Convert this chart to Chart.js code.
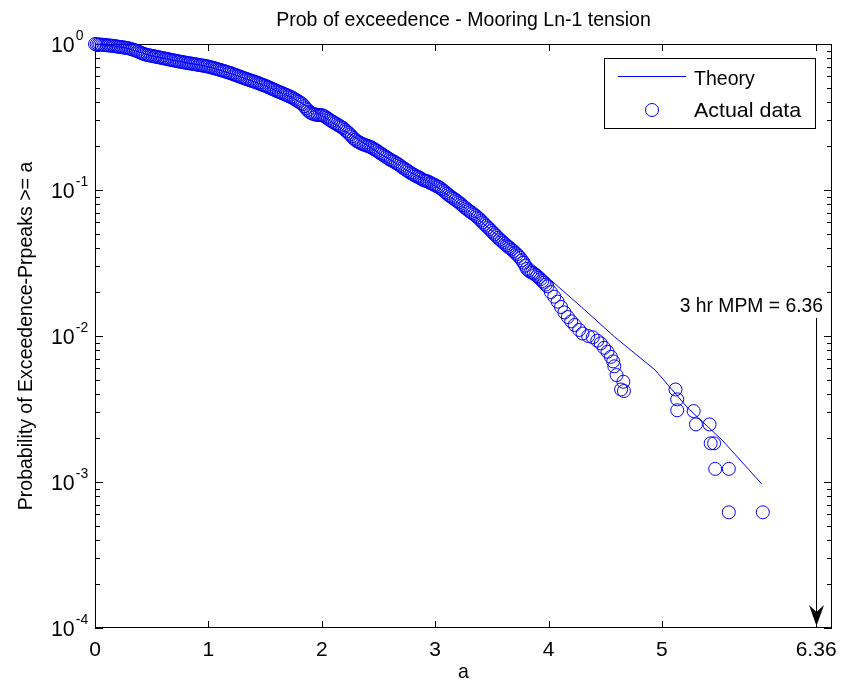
<!DOCTYPE html>
<html>
<head>
<meta charset="utf-8">
<script src="https://cdn.jsdelivr.net/npm/chart.js@4.4.1/dist/chart.umd.min.js"></script>
<style>
  html, body { margin: 0; padding: 0; background: #fff; }
  #wrap { width: 842px; height: 688px; }
</style>
</head>
<body>
<div id="wrap"><canvas id="pexChart" width="842" height="688"></canvas></div>
<script>
const TITLE = 'Prob of exceedence - Mooring Ln-1 tension';
const X_LABEL = 'a';
const Y_LABEL = 'Probability of Exceedence-Prpeaks >= a';
const X_TICKS = [0, 1, 2, 3, 4, 5, 6.36];
const X_TICK_LABELS = ['0', '1', '2', '3', '4', '5', '6.36'];
const Y_EXPONENTS = [0, -1, -2, -3, -4];
const MPM = 6.36;
const MPM_TEXT = '3 hr MPM = 6.36';
const LEGEND_LABELS = ['Theory', 'Actual data'];

// theory curve (a, probability)
const theoryA = [0, 0.25, 0.5, 0.75, 1.0, 1.25, 1.5, 1.75, 2.0, 2.25, 2.5, 2.75, 3.0, 3.25, 3.5,
  3.73, 3.85, 4.29, 4.58, 4.94, 5.23, 5.53, 5.88];
const theoryP = [1.0, 0.951, 0.829, 0.757, 0.700, 0.609, 0.518, 0.425, 0.324, 0.240, 0.180, 0.137,
  0.107, 0.077, 0.0525, 0.038, 0.0315, 0.0158, 0.0099, 0.00585, 0.0032, 0.00194, 0.00097];

const actualA = [
  0.00, 0.03, 0.06, 0.09, 0.12, 0.15, 0.18, 0.21, 0.24, 0.27, 0.30, 0.33, 0.36, 0.39, 0.42, 0.45,
  0.48, 0.51, 0.54, 0.57, 0.60, 0.63, 0.66, 0.69, 0.72, 0.75, 0.78, 0.81, 0.84, 0.87, 0.90, 0.93,
  0.96, 0.99, 1.02, 1.05, 1.08, 1.11, 1.14, 1.17, 1.20, 1.23, 1.26, 1.29, 1.32, 1.35, 1.38, 1.41,
  1.44, 1.47, 1.50, 1.53, 1.56, 1.59, 1.62, 1.65, 1.68, 1.71, 1.74, 1.77, 1.80, 1.83, 1.86, 1.89,
  1.92, 1.95, 1.98, 2.01, 2.04, 2.07, 2.10, 2.13, 2.16, 2.19, 2.22, 2.25, 2.28, 2.31, 2.34, 2.37,
  2.40, 2.43, 2.46, 2.49, 2.52, 2.55, 2.58, 2.61, 2.64, 2.67, 2.70, 2.73, 2.76, 2.79, 2.82, 2.85,
  2.88, 2.91, 2.94, 2.97, 3.00, 3.03, 3.06, 3.09, 3.12, 3.15, 3.18, 3.21, 3.24, 3.27, 3.30, 3.33,
  3.36, 3.39, 3.42, 3.45, 3.48, 3.51, 3.54, 3.57, 3.60, 3.63, 3.66, 3.69, 3.72, 3.75, 3.78, 3.81,
  3.84, 3.87, 3.90, 3.93, 3.96, 3.99,
  0.015, 0.045, 0.075, 0.105, 0.135, 0.165, 0.195, 0.225, 0.255, 0.285, 0.315, 0.345, 0.375, 0.405, 0.435, 0.465,
  0.495, 0.525, 0.555, 0.585, 0.615, 0.645, 0.675, 0.705, 0.735, 0.765, 0.795, 0.825, 0.855, 0.885, 0.915, 0.945,
  0.975, 1.005, 1.035, 1.065, 1.095, 1.125, 1.155, 1.185, 1.215, 1.245, 1.275, 1.305, 1.335, 1.365, 1.395, 1.425,
  1.455, 1.485, 1.515, 1.545, 1.575, 1.605, 1.635, 1.665, 1.695, 1.725, 1.755, 1.785, 1.815, 1.845, 1.875, 1.905,
  1.935, 1.965, 1.995, 2.025, 2.055, 2.085, 2.115, 2.145, 2.175, 2.205, 2.235, 2.265, 2.295, 2.325, 2.355, 2.385,
  2.415, 2.445, 2.475, 2.505, 2.535, 2.565, 2.595, 2.625, 2.655, 2.685, 2.715, 2.745, 2.775, 2.805, 2.835, 2.865,
  2.895, 2.925, 2.955, 2.985, 3.015, 3.045, 3.075, 3.105, 3.135, 3.165, 3.195, 3.225, 3.255, 3.285, 3.315, 3.345,
  3.375, 3.405, 3.435, 3.465, 3.495, 3.525, 3.555, 3.585, 3.615, 3.645, 3.675, 3.705, 3.735, 3.765, 3.795, 3.825,
  3.855, 3.885, 3.915, 3.945, 3.975,
  4.02, 4.05, 4.08, 4.11, 4.14, 4.17, 4.20, 4.23, 4.27, 4.30, 4.35, 4.39, 4.43, 4.46, 4.49, 4.52,
  4.55, 4.57, 4.58, 4.60, 4.66, 4.64, 4.665,
  5.12, 5.135, 5.135, 5.28, 5.30, 5.42, 5.43, 5.46, 5.47, 5.59, 5.59, 5.89];
const actualP = [
  1.000, 0.993, 0.989, 0.984, 0.977, 0.973, 0.966, 0.957, 0.951, 0.942, 0.933, 0.918, 0.902, 0.881, 0.861, 0.845,
  0.836, 0.826, 0.818, 0.809, 0.800, 0.791, 0.782, 0.773, 0.766, 0.757, 0.750, 0.743, 0.736, 0.730, 0.723, 0.716,
  0.710, 0.703, 0.693, 0.684, 0.673, 0.662, 0.652, 0.641, 0.630, 0.617, 0.605, 0.593, 0.582, 0.571, 0.560, 0.550,
  0.540, 0.528, 0.518, 0.506, 0.494, 0.482, 0.471, 0.461, 0.450, 0.440, 0.429, 0.415, 0.402, 0.387, 0.363, 0.343,
  0.333, 0.328, 0.326, 0.324, 0.314, 0.302, 0.292, 0.283, 0.274, 0.265, 0.252, 0.240, 0.226, 0.216, 0.210, 0.205,
  0.201, 0.197, 0.191, 0.185, 0.178, 0.172, 0.166, 0.160, 0.156, 0.151, 0.145, 0.140, 0.135, 0.130, 0.126, 0.123,
  0.119, 0.116, 0.114, 0.111, 0.108, 0.105, 0.101, 0.0966, 0.0923, 0.0887, 0.0855, 0.0822, 0.0785, 0.0750, 0.0719, 0.0692,
  0.0665, 0.0634, 0.0600, 0.0569, 0.0540, 0.0510, 0.0484, 0.0459, 0.0437, 0.0417, 0.0400, 0.0382, 0.0363, 0.0343, 0.0318, 0.0288,
  0.0275, 0.0268, 0.0257, 0.0245, 0.0232, 0.0219,
  0.996, 0.991, 0.986, 0.980, 0.975, 0.970, 0.961, 0.954, 0.946, 0.938, 0.925, 0.910, 0.891, 0.871, 0.853, 0.840,
  0.831, 0.822, 0.813, 0.804, 0.795, 0.786, 0.777, 0.769, 0.761, 0.753, 0.746, 0.739, 0.733, 0.726, 0.719, 0.713,
  0.706, 0.698, 0.688, 0.678, 0.667, 0.657, 0.646, 0.635, 0.623, 0.611, 0.599, 0.587, 0.576, 0.565, 0.555, 0.545,
  0.534, 0.523, 0.512, 0.500, 0.488, 0.476, 0.466, 0.455, 0.445, 0.434, 0.422, 0.408, 0.394, 0.375, 0.353, 0.338,
  0.330, 0.327, 0.325, 0.319, 0.308, 0.297, 0.287, 0.278, 0.269, 0.258, 0.246, 0.233, 0.221, 0.213, 0.207, 0.203,
  0.199, 0.194, 0.188, 0.181, 0.175, 0.169, 0.163, 0.158, 0.153, 0.148, 0.142, 0.137, 0.132, 0.128, 0.124, 0.121,
  0.117, 0.115, 0.112, 0.109, 0.106, 0.103, 0.0988, 0.0944, 0.0905, 0.0871, 0.0838, 0.0803, 0.0767, 0.0734, 0.0705, 0.0678,
  0.0649, 0.0617, 0.0584, 0.0554, 0.0525, 0.0497, 0.0471, 0.0448, 0.0427, 0.0408, 0.0391, 0.0372, 0.0353, 0.0330, 0.0303, 0.0281,
  0.0271, 0.0262, 0.0251, 0.0238, 0.0225,
  0.0200, 0.0186, 0.0172, 0.0158, 0.0145, 0.0135, 0.0126, 0.0119, 0.0110, 0.0104, 0.0100, 0.0098, 0.0093, 0.0089, 0.0083, 0.0078,
  0.0072, 0.0067, 0.0062, 0.0054, 0.00486, 0.0043, 0.0042,
  0.0043, 0.00368, 0.0031, 0.00306, 0.00248, 0.00248, 0.00184, 0.00184, 0.00123, 0.00123, 0.00062, 0.00062];

const BLUE = '#0000ff';
const FONT = '"Liberation Sans", Arial, Helvetica, sans-serif';
const FS = 21;   // label font size
const SX = 0.93; // glyphs in the original are a little narrow

function txt(ctx, s, x, y, size, align, rot, sx) {
  ctx.save();
  ctx.font = size + 'px ' + FONT;
  ctx.fillStyle = '#000';
  ctx.textAlign = align || 'left';
  ctx.textBaseline = 'alphabetic';
  ctx.translate(x, y);
  if (rot) ctx.rotate(rot);
  ctx.scale(sx || SX, 1);
  ctx.fillText(s, 0, 0);
  ctx.restore();
}

// ── box + inside ticks (under the markers), texts and legend on top ──
const axesBox = {
  id: 'axesBox',
  beforeDatasetsDraw(chart) {
    const { ctx, chartArea: ca, scales: { x, y } } = chart;
    ctx.save();
    ctx.strokeStyle = '#000';
    ctx.lineWidth = 1;
    ctx.strokeRect(ca.left + 0.5, ca.top + 0.5, ca.right - ca.left - 1, ca.bottom - ca.top - 1);
    ctx.beginPath();
    X_TICKS.forEach(v => {
      const px = Math.round(x.getPixelForValue(v)) + 0.5;
      ctx.moveTo(px, ca.bottom); ctx.lineTo(px, ca.bottom - 7);
      ctx.moveTo(px, ca.top); ctx.lineTo(px, ca.top + 7);
    });
    Y_EXPONENTS.forEach(e => {
      const py = Math.round(y.getPixelForValue(Math.pow(10, e))) + 0.5;
      ctx.moveTo(ca.left, py); ctx.lineTo(ca.left + 8, py);
      ctx.moveTo(ca.right, py); ctx.lineTo(ca.right - 8, py);
      if (e < 0) {
        for (let k = 2; k <= 9; k++) {
          const pm = Math.round(y.getPixelForValue(k * Math.pow(10, e))) + 0.5;
          ctx.moveTo(ca.left, pm); ctx.lineTo(ca.left + 5, pm);
          ctx.moveTo(ca.right, pm); ctx.lineTo(ca.right - 5, pm);
        }
      }
    });
    ctx.stroke();
    ctx.restore();
  },
  afterDraw(chart) {
    const { ctx, chartArea: ca, scales: { x, y } } = chart;
    const midX = (ca.left + ca.right) / 2;
    const midY = (ca.top + ca.bottom) / 2;

    txt(ctx, TITLE, midX, 26, FS, 'center');
    txt(ctx, X_LABEL, midX, 678, FS, 'center');
    txt(ctx, Y_LABEL, 32, midY, FS, 'center', -Math.PI / 2);

    X_TICKS.forEach((v, i) => {
      txt(ctx, X_TICK_LABELS[i], x.getPixelForValue(v), ca.bottom + 28, FS, 'center', 0, 1);
    });
    Y_EXPONENTS.forEach(e => {
      const py = y.getPixelForValue(Math.pow(10, e));
      txt(ctx, '10', 51, py + 8, 22, 'left', 0, 0.97);
      ctx.save();
      ctx.font = '22px ' + FONT;
      const w = ctx.measureText('10').width * 0.97;
      ctx.restore();
      txt(ctx, String(e), 51 + w + 1, py - 4, 14, 'left', 0, 1);
    });

    // legend
    ctx.save();
    ctx.fillStyle = '#fff';
    ctx.fillRect(604, 58, 212, 71);
    ctx.strokeStyle = '#000';
    ctx.lineWidth = 1;
    ctx.strokeRect(604.5, 58.5, 211, 70);
    ctx.strokeStyle = BLUE;
    ctx.beginPath();
    ctx.moveTo(618, 76.5); ctx.lineTo(686, 76.5);
    ctx.stroke();
    ctx.beginPath();
    ctx.arc(652, 110, 6.5, 0, Math.PI * 2);
    ctx.stroke();
    ctx.restore();
    txt(ctx, LEGEND_LABELS[0], 694, 85, FS, 'left');
    txt(ctx, LEGEND_LABELS[1], 694, 117, FS, 'left', 0, 1.02);

    // MPM annotation + arrow
    const ax = Math.round(x.getPixelForValue(MPM)) + 0.5;
    txt(ctx, MPM_TEXT, 823, 312, FS, 'right', 0, 0.92);
    const tip = ca.bottom - 2;
    ctx.save();
    ctx.strokeStyle = '#000';
    ctx.fillStyle = '#000';
    ctx.lineWidth = 1;
    ctx.beginPath();
    ctx.moveTo(ax, 318); ctx.lineTo(ax, tip - 10);
    ctx.stroke();
    ctx.beginPath();
    ctx.moveTo(ax, tip);
    ctx.lineTo(ax - 7.5, tip - 21);
    ctx.lineTo(ax, tip - 14);
    ctx.lineTo(ax + 7.5, tip - 21);
    ctx.closePath();
    ctx.fill();
    ctx.restore();
  },
};

new Chart(document.getElementById('pexChart'), {
  type: 'scatter',
  data: {
    datasets: [
      {
        label: LEGEND_LABELS[0],
        data: theoryA.map((a, i) => ({ x: a, y: theoryP[i] })),
        showLine: true,
        borderColor: BLUE,
        borderWidth: 1,
        pointRadius: 0,
        fill: false,
        clip: false,
        order: 2,
      },
      {
        label: LEGEND_LABELS[1],
        data: actualA.map((a, i) => ({ x: a, y: actualP[i] })),
        pointStyle: 'circle',
        pointRadius: 6.5,
        pointBorderWidth: 1,
        borderColor: BLUE,
        backgroundColor: 'rgba(0,0,0,0)',
        clip: false,
        order: 1,
      },
    ],
  },
  options: {
    responsive: false,
    animation: false,
    devicePixelRatio: 1,
    layout: { padding: { left: 95, top: 44, right: 10, bottom: 60 } },
    plugins: {
      legend: { display: false },
      title: { display: false },
      tooltip: { enabled: false },
    },
    scales: {
      x: {
        type: 'linear', min: 0, max: 6.5,
        grid: { display: false }, ticks: { display: false }, border: { display: false },
        afterFit: s => { s.height = 0; },
      },
      y: {
        type: 'logarithmic', min: 1e-4, max: 1,
        grid: { display: false }, ticks: { display: false }, border: { display: false },
        afterFit: s => { s.width = 0; },
      },
    },
  },
  plugins: [axesBox],
});
</script>
</body>
</html>
